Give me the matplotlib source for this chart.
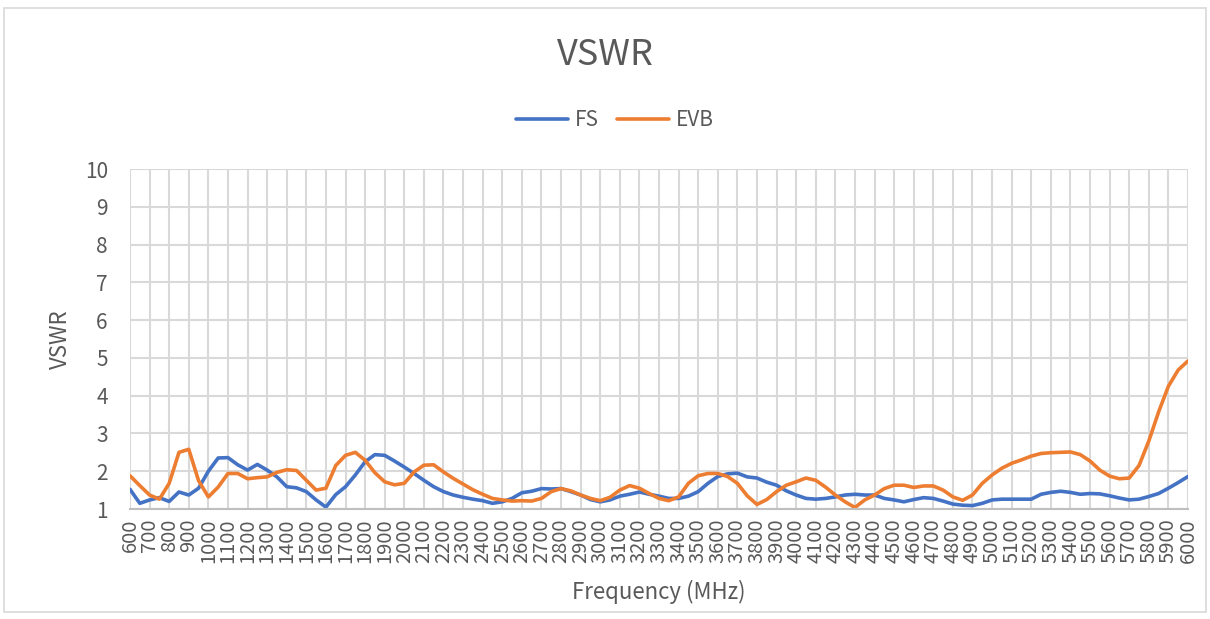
import numpy as np
import matplotlib
matplotlib.use("Agg")
import matplotlib.pyplot as plt
from matplotlib.patches import Rectangle

plt.rcParams['font.family'] = ['Noto Sans CJK SC', 'DejaVu Sans']
plt.rcParams['font.weight'] = 'light'

# Frequency (MHz), every 50 MHz
freq = list(range(600, 6001, 50))

fs = [1.52, 1.15, 1.24, 1.30, 1.20, 1.45, 1.37, 1.55, 2.00, 2.35,
      2.36, 2.17, 2.03, 2.18, 2.03, 1.85, 1.59, 1.56, 1.46, 1.24,
      1.05, 1.38, 1.59, 1.90, 2.25, 2.44, 2.42, 2.27, 2.11, 1.94,
      1.76, 1.59, 1.46, 1.37, 1.31, 1.26, 1.22, 1.15, 1.19, 1.28,
      1.43, 1.47, 1.54, 1.53, 1.54, 1.46, 1.37, 1.25, 1.19, 1.24,
      1.34, 1.39, 1.45, 1.39, 1.34, 1.28, 1.28, 1.34, 1.46, 1.68,
      1.86, 1.93, 1.95, 1.85, 1.82, 1.71, 1.63, 1.48, 1.37, 1.28,
      1.26, 1.28, 1.32, 1.37, 1.39, 1.37, 1.37, 1.28, 1.24, 1.19,
      1.25, 1.30, 1.28, 1.21, 1.13, 1.10, 1.09, 1.15, 1.24, 1.26,
      1.26, 1.26, 1.26, 1.39, 1.44, 1.47, 1.44, 1.39, 1.41, 1.40,
      1.35, 1.29, 1.24, 1.26, 1.33, 1.41, 1.55, 1.70, 1.86]

evb = [1.88, 1.62, 1.37, 1.26, 1.68, 2.50, 2.58, 1.75, 1.32, 1.58,
       1.94, 1.94, 1.80, 1.83, 1.85, 1.97, 2.04, 2.02, 1.76, 1.50,
       1.55, 2.15, 2.42, 2.50, 2.29, 1.96, 1.72, 1.64, 1.68, 1.98,
       2.16, 2.17, 1.98, 1.81, 1.66, 1.51, 1.39, 1.28, 1.24, 1.21,
       1.22, 1.21, 1.28, 1.46, 1.54, 1.48, 1.37, 1.28, 1.22, 1.31,
       1.50, 1.62, 1.55, 1.41, 1.28, 1.22, 1.32, 1.68, 1.88, 1.94,
       1.94, 1.86, 1.68, 1.35, 1.12, 1.25, 1.46, 1.63, 1.72, 1.82,
       1.76, 1.58, 1.37, 1.19, 1.04, 1.24, 1.37, 1.54, 1.63, 1.63,
       1.57, 1.61, 1.61, 1.50, 1.32, 1.23, 1.37, 1.68, 1.90, 2.08,
       2.21, 2.30, 2.40, 2.47, 2.49, 2.50, 2.51, 2.44, 2.27, 2.03,
       1.87, 1.80, 1.82, 2.15, 2.80, 3.57, 4.25, 4.68, 4.92]

xticks = list(range(600, 6001, 100))
yticks = list(range(1, 11))

BLUE = '#4472C4'
ORANGE = '#ED7D31'
TXT = '#595959'
GRID = '#D9D9D9'

fig = plt.figure(figsize=(12.1, 6.19), dpi=100)
ax = fig.add_axes([130/1210, 1-509/619, (1188-130)/1210, (509-169)/619])

ax.plot(freq, fs, color=BLUE, lw=2.6, label='FS', solid_capstyle='round', solid_joinstyle='round')
ax.plot(freq, evb, color=ORANGE, lw=2.6, label='EVB', solid_capstyle='round', solid_joinstyle='round')

ax.set_xlim(600, 6000)
ax.set_ylim(1, 10)
ax.set_xticks(xticks)
ax.set_xticklabels([str(t) for t in xticks], rotation=90, fontsize=14.5, color=TXT)
ax.set_yticks(yticks)
ax.set_yticklabels([str(t) for t in yticks], fontsize=15, color=TXT)
ax.tick_params(axis='both', length=0)
ax.tick_params(axis='y', pad=16)
ax.tick_params(axis='x', pad=7)
ax.grid(True, color=GRID, lw=1.5)
ax.set_axisbelow(True)
for s in ['top', 'right', 'left']:
    ax.spines[s].set_visible(False)
ax.spines['bottom'].set_color('#BFBFBF')
ax.spines['bottom'].set_linewidth(1.5)

ax.set_xlabel('Frequency (MHz)', fontsize=16, color=TXT, labelpad=12)
ax.set_ylabel('VSWR', fontsize=16, color=TXT, labelpad=9)

fig.text(0.5, 1-55/619, 'VSWR', ha='center', va='center', fontsize=26, color=TXT)
fig.legend(loc='center', bbox_to_anchor=(615/1210, 1-120/619), ncol=2, frameon=False,
           fontsize=15, handlelength=2.5, handletextpad=0.3, columnspacing=0.9,
           labelcolor=TXT)

fig.add_artist(Rectangle((4/1210, 7/619), 1202/1210, 604/619, transform=fig.transFigure,
                         fill=False, edgecolor=GRID, lw=1.2))

fig.savefig('out.png', dpi=100)
